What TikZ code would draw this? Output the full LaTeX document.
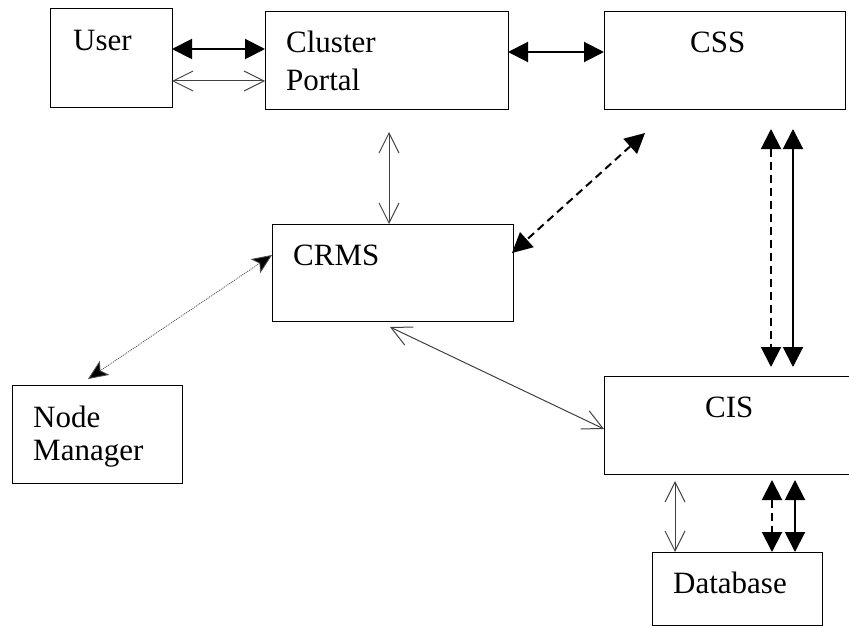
\documentclass[tikz,border=0pt]{standalone}
\usepackage{fontspec}
\setmainfont{Liberation Serif}
\usetikzlibrary{arrows.meta}

\begin{document}
\begin{tikzpicture}[x=1pt,y=-1pt,
  box/.style={draw, line width=1pt, inner sep=0pt, outer sep=0pt, anchor=north west},
  lbl/.style={anchor=base west, inner sep=0pt, font=\fontsize{31}{37}\selectfont},
  bold/.style={line width=2pt,
    {Triangle[length=20pt,width=20pt]}-{Triangle[length=20pt,width=20pt]}},
  open/.style={line width=1pt, draw=black!75,
    {Straight Barb[length=20pt,width=20pt]}-{Straight Barb[length=20pt,width=20pt]}},
  dotarr/.style={line width=0.8pt, draw=black!70, dash pattern=on 1pt off 1pt,
    {Stealth[length=20pt,width=17pt,inset=5pt,fill=black]}-{Stealth[length=20pt,width=17pt,inset=5pt,fill=black]}}]
  \useasboundingbox (0,0) rectangle (849,626);
  \clip (0,0) rectangle (849,626);

  \node[box, minimum width=122pt, minimum height=98pt] (user) at (50,9) {};
  \node[box, minimum width=243pt, minimum height=97pt] (portal) at (265,12) {};
  \node[box, minimum width=241pt, minimum height=97pt] (css) at (604,12) {};
  \node[box, minimum width=241pt, minimum height=97pt] (crms) at (272,224) {};
  \node[box, minimum width=170pt, minimum height=98pt] (nodemgr) at (12,385) {};
  \node[box, minimum width=250pt, minimum height=98pt] (cis) at (604,376) {};
  \node[box, minimum width=170pt, minimum height=73pt] (db) at (652,552) {};

  \node[lbl] (userlbl) at (73,51) {User};
  \node[lbl] (portallbl) at (286,53) {Cluster};
  \node[lbl] (portallbl2) at (286,91) {Portal};
  \node[lbl] (csslbl) at (690,53) {CSS};
  \node[lbl] (crmslbl) at (293,265) {CRMS};
  \node[lbl] (nodelbl) at (33,427) {Node};
  \node[lbl] (nodelbl2) at (33,460) {Manager};
  \node[lbl] (cislbl) at (705,417) {CIS};
  \node[lbl] (dblbl) at (673,593) {Database};

  \draw[bold] ([yshift=-40pt]user.north east) -- ([yshift=-37pt]portal.north west);
  \draw[open] ([yshift=-72pt]user.north east) -- ([yshift=-69pt]portal.north west);
  \draw[bold] ([yshift=-40pt]portal.north east) -- ([yshift=-40pt]css.north west);
  \draw[open] ([xshift=124pt,yshift=-23pt]portal.south west) -- ([xshift=117pt]crms.north west);
  \draw[bold, dash pattern=on 8pt off 5pt]
    ([xshift=41pt,yshift=-24pt]css.south west) -- ([xshift=-1pt,yshift=-29pt]crms.north east);
  \draw[dotarr] ([yshift=-31pt]crms.north west) -- ([xshift=76pt,yshift=6pt]nodemgr.north west);
  \draw[open] ([xshift=118pt,yshift=-6pt]crms.south west) -- ([yshift=-53pt]cis.north west);
  \draw[bold, dash pattern=on 8pt off 5pt]
    ([xshift=167pt,yshift=-20pt]css.south west) -- ([xshift=167pt,yshift=9pt]cis.north west);
  \draw[bold] ([xshift=189pt,yshift=-20pt]css.south west) -- ([xshift=189pt,yshift=9pt]cis.north west);
  \draw[open] ([xshift=71pt,yshift=-7pt]cis.south west) -- ([xshift=23pt]db.north west);
  \draw[bold, dash pattern=on 8pt off 5pt]
    ([xshift=168pt,yshift=-6pt]cis.south west) -- ([xshift=120pt]db.north west);
  \draw[bold] ([xshift=191pt,yshift=-6pt]cis.south west) -- ([xshift=143pt]db.north west);
\end{tikzpicture}
\end{document}
